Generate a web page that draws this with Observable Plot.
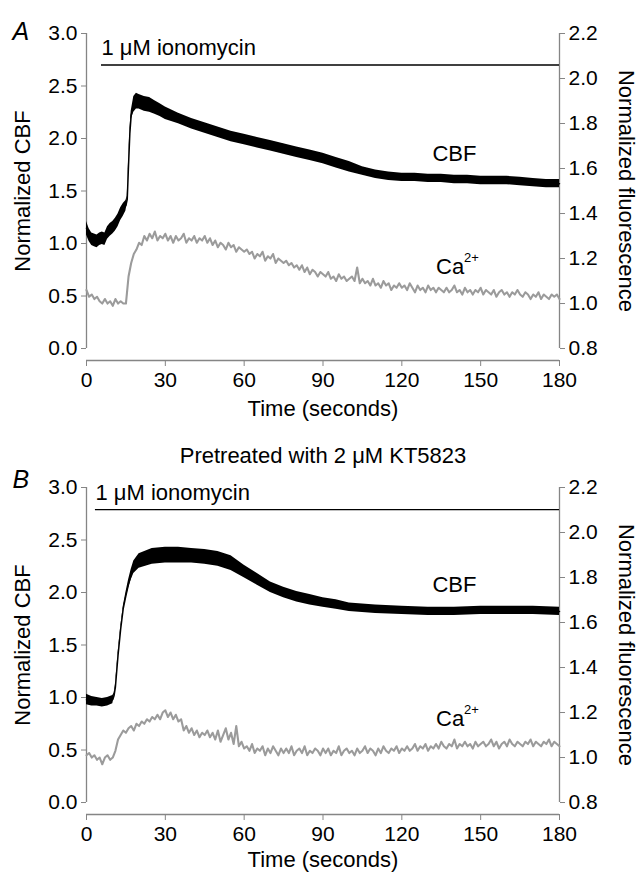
<!DOCTYPE html>
<html><head><meta charset="utf-8">
<script src="https://cdn.jsdelivr.net/npm/d3@7"></script>
<script src="https://cdn.jsdelivr.net/npm/@observablehq/plot@0.6"></script>
<style>
body{margin:0;background:#fff;}
#chart{width:641px;height:873px;font-family:"Liberation Sans",Arial,sans-serif;}
#chart svg{display:block;}
</style></head><body><div id="chart"></div>
<script>
// ---- axis tick values ----
const xTicks = [0, 30, 60, 90, 120, 150, 180];
const cbfTicks = [0, 0.5, 1.0, 1.5, 2.0, 2.5, 3.0];
const fluorTicks = [0.8, 1.0, 1.2, 1.4, 1.6, 1.8, 2.0, 2.2];

// ---- Panel A: CBF band (lower / upper edge of the dot cloud) ----
const cbfA_t  = [0,1,2,3,4,5,6,7,8,9,10,11,12,13,14,15,15.5,16,16.5,17,18,19,20,22,24,26,28,30,35,40,45,50,55,60,65,70,75,80,85,90,95,100,105,110,115,120,125,130,135,140,145,150,155,160,165,170,175,180];
const cbfA_lo = [1.08,1.02,0.98,0.97,0.96,0.98,0.99,0.98,1.04,1.07,1.09,1.12,1.16,1.22,1.26,1.31,1.39,1.72,2.02,2.18,2.25,2.28,2.28,2.26,2.25,2.23,2.21,2.18,2.14,2.09,2.05,2.01,1.97,1.94,1.91,1.88,1.85,1.82,1.79,1.76,1.72,1.68,1.65,1.62,1.60,1.59,1.59,1.58,1.58,1.57,1.57,1.56,1.56,1.56,1.55,1.54,1.53,1.53];
const cbfA_hi = [1.21,1.14,1.10,1.09,1.08,1.10,1.11,1.10,1.16,1.19,1.21,1.24,1.28,1.34,1.38,1.41,1.45,1.78,2.08,2.26,2.40,2.43,2.42,2.40,2.39,2.36,2.33,2.30,2.24,2.19,2.15,2.11,2.07,2.04,2.01,1.98,1.95,1.92,1.89,1.86,1.82,1.78,1.73,1.70,1.68,1.67,1.67,1.66,1.66,1.65,1.65,1.64,1.64,1.64,1.63,1.62,1.61,1.61];

// ---- Panel A: Ca2+ fluorescence, one reading per second (0..180 s) ----
const caA = [1.06,1.03,1.04,1.02,1.03,1.01,1.00,1.02,1.00,1.01,0.99,1.02,1.00,1.01,1.00,1.00,
 1.12,1.18,1.22,1.24,1.27,1.26,1.30,1.28,1.31,1.29,1.32,1.28,1.30,1.29,1.31,
 1.28,1.30,1.27,1.30,1.28,1.29,1.31,1.27,1.29,1.28,1.30,1.27,1.29,1.28,1.30,
 1.27,1.29,1.26,1.28,1.25,1.27,1.26,1.24,1.27,1.25,1.26,1.23,1.25,1.24,1.23,
 1.24,1.22,1.23,1.20,1.22,1.21,1.23,1.19,1.21,1.20,1.22,1.18,1.20,1.19,1.18,
 1.19,1.17,1.18,1.16,1.17,1.15,1.17,1.14,1.16,1.13,1.15,1.14,1.12,1.14,1.13,
 1.12,1.14,1.11,1.12,1.10,1.13,1.11,1.12,1.10,1.11,1.12,1.10,1.16,1.09,1.11,
 1.09,1.10,1.08,1.11,1.08,1.09,1.07,1.10,1.08,1.09,1.06,1.08,1.07,1.09,1.07,
 1.08,1.06,1.09,1.07,1.05,1.08,1.06,1.07,1.05,1.08,1.06,1.07,1.05,1.07,1.06,
 1.05,1.07,1.05,1.06,1.08,1.05,1.06,1.04,1.07,1.05,1.06,1.04,1.06,1.05,1.07,
 1.04,1.06,1.05,1.04,1.06,1.03,1.05,1.06,1.04,1.05,1.03,1.05,1.04,1.06,1.04,
 1.03,1.05,1.04,1.02,1.04,1.03,1.05,1.02,1.04,1.03,1.02,1.04,1.03,1.04,1.02];

// ---- Panel B: CBF band ----
const cbfB_t  = [0,2,4,6,8,10,10.5,11,11.5,12,13,14,15,16,17,18,20,25,30,35,40,45,50,55,60,65,70,75,80,85,90,95,100,110,120,130,140,150,160,170,180];
const cbfB_lo = [0.93,0.92,0.92,0.91,0.92,0.94,1.00,1.08,1.23,1.38,1.63,1.83,1.94,2.04,2.12,2.18,2.23,2.27,2.28,2.28,2.28,2.27,2.25,2.21,2.14,2.07,2.00,1.95,1.91,1.88,1.86,1.84,1.82,1.80,1.79,1.78,1.78,1.79,1.79,1.79,1.78];
const cbfB_hi = [1.03,1.01,1.00,0.99,1.00,1.02,1.04,1.12,1.27,1.42,1.67,1.87,2.00,2.12,2.22,2.30,2.37,2.42,2.43,2.43,2.42,2.41,2.39,2.35,2.26,2.18,2.10,2.05,2.01,1.98,1.95,1.93,1.90,1.88,1.87,1.86,1.86,1.87,1.87,1.87,1.86];

// ---- Panel B: Ca2+ fluorescence, one reading per second ----
const caB = [1.01,1.02,1.00,1.01,0.99,1.00,0.97,1.00,1.01,0.99,1.00,1.03,1.08,1.10,1.12,1.11,
 1.13,1.14,1.12,1.15,1.14,1.16,1.15,1.17,1.16,1.18,1.17,1.19,1.17,1.20,1.21,
 1.18,1.20,1.17,1.19,1.16,1.17,1.12,1.14,1.11,1.13,1.10,1.12,1.09,1.11,1.10,
 1.12,1.09,1.11,1.08,1.12,1.07,1.10,1.13,1.08,1.11,1.06,1.14,1.05,1.07,1.04,
 1.05,1.03,1.06,1.02,1.04,1.03,1.05,1.01,1.04,1.02,1.05,1.03,1.01,1.04,1.02,
 1.04,1.02,1.05,1.01,1.03,1.04,1.02,1.05,1.01,1.03,1.02,1.04,1.03,1.01,1.04,
 1.02,1.04,1.01,1.03,1.02,1.05,1.01,1.03,1.04,1.02,1.03,1.01,1.04,1.02,1.03,
 1.05,1.02,1.04,1.03,1.01,1.04,1.02,1.05,1.03,1.02,1.04,1.03,1.05,1.02,1.04,
 1.03,1.05,1.03,1.04,1.06,1.03,1.05,1.04,1.06,1.03,1.05,1.04,1.06,1.04,1.07,
 1.05,1.04,1.06,1.05,1.08,1.04,1.06,1.05,1.07,1.05,1.06,1.04,1.07,1.05,1.06,
 1.07,1.05,1.06,1.08,1.05,1.07,1.04,1.06,1.07,1.05,1.08,1.06,1.05,1.07,1.06,
 1.05,1.07,1.06,1.08,1.05,1.07,1.06,1.05,1.07,1.06,1.08,1.05,1.07,1.06,1.05];

// ---- text ----
const ionoLabel = "1 \u03BCM ionomycin";
const titleB = "Pretreated with 2 \u03BCM KT5823";
const yTitleL = "Normalized CBF";
const yTitleR = "Normalized fluorescence";
const xTitle = "Time (seconds)";

// fluorescence axis (0.8..2.2) shares the frame with the CBF axis (0..3)
const F0 = 0.8, F1 = 2.2, C1 = 3;
const toCBF = f => (f - F0) / (F1 - F0) * C1;
const toF = c => F0 + c / C1 * (F1 - F0);

const FONT = "Liberation Sans, Arial, sans-serif";
const AXIS_GRAY = "#858585";
const TICK_FS = 21, TXT_FS = 22;

function panel(p) {
  const band = p.t.map((x, i) => ({t: x, lo: p.lo[i], hi: p.hi[i], mid: (p.lo[i] + p.hi[i]) / 2}));
  const caData = p.ca.map((f, i) => ({t: i, y: toCBF(f)}));
  const yLow = -0.114;
  const marks = [
    Plot.ruleX([0], {y1: 0, y2: 3, stroke: AXIS_GRAY, strokeWidth: 1.3}),
    Plot.ruleX([180], {y1: 0, y2: 3, stroke: AXIS_GRAY, strokeWidth: 1.3}),
    Plot.ruleY([yLow], {x1: 0, x2: 180, stroke: AXIS_GRAY, strokeWidth: 1.3}),
    Plot.axisY(cbfTicks, {anchor: "left", tickFormat: d3.format(".1f"), tickSize: 5, tickPadding: 4, label: null, stroke: AXIS_GRAY, fill: "#000", fontSize: TICK_FS}),
    Plot.axisY(fluorTicks.map(toCBF), {anchor: "right", tickFormat: d => toF(d).toFixed(1), tickSize: 5, tickPadding: 4, label: null, stroke: AXIS_GRAY, fill: "#000", fontSize: TICK_FS}),
    Plot.axisX(xTicks, {anchor: "bottom", tickSize: 6, tickPadding: 6, label: null, stroke: AXIS_GRAY, fill: "#000", fontSize: TICK_FS}),
    Plot.line(caData, {x: "t", y: "y", stroke: "#9b9b9b", strokeWidth: 2.1}),
    Plot.areaY(band, {x: "t", y1: "lo", y2: "hi", fill: "#000"}),
    Plot.line(band, {x: "t", y: "mid", stroke: "#000", strokeWidth: 1.5}),
    Plot.ruleY([p.iono.y], {x1: p.iono.t0, x2: 180, stroke: "#000", strokeWidth: 1.3}),
    Plot.text([{x: p.iono.t0, y: p.iono.ty, s: ionoLabel}], {x: "x", y: "y", text: "s", textAnchor: "start", fontSize: TXT_FS, fill: "#000"}),
    Plot.text([{x: p.cbfLab[0], y: p.cbfLab[1], s: "CBF"}], {x: "x", y: "y", text: "s", fontSize: TXT_FS, fill: "#000"}),
    Plot.text([{x: p.caLab[0], y: p.caLab[1], s: "Ca"}], {x: "x", y: "y", text: "s", textAnchor: "start", fontSize: TXT_FS, fill: "#000"}),
    Plot.text([{x: p.caLab[0], y: p.caLab[1], s: "2+"}], {x: "x", y: "y", text: "s", textAnchor: "start", dx: 28, dy: -9, fontSize: 13, fill: "#000"}),
    Plot.text([{x: 0, y: 1.5, s: yTitleL}], {x: "x", y: "y", text: "s", rotate: -90, dx: -64, fontSize: TXT_FS, fill: "#000"}),
    Plot.text([{x: 180, y: 1.5, s: yTitleR}], {x: "x", y: "y", text: "s", rotate: 90, dx: 67, fontSize: TXT_FS, fill: "#000"}),
    Plot.text([{x: 90, y: yLow, s: xTitle}], {x: "x", y: "y", text: "s", dy: p.xTitleDy, fontSize: TXT_FS, fill: "#000"}),
    Plot.text([{x: 0, y: 3, s: p.letter}], {x: "x", y: "y", text: "s", textAnchor: "start", dx: -74, dy: p.letterDy, fontSize: 25, fontStyle: "italic", fill: "#000"})
  ];
  if (p.title) marks.push(Plot.text([{x: 90, y: 3, s: p.title}], {x: "x", y: "y", text: "s", dy: -32, fontSize: TXT_FS, fill: "#000"}));
  return Plot.plot({
    width: 641, height: p.height,
    marginLeft: 86, marginRight: 82, marginTop: p.marginTop, marginBottom: p.marginBottom,
    x: {domain: [0, 180]},
    y: {domain: [yLow, 3]},
    style: {fontFamily: FONT, fontSize: "21px", color: "#000", background: "#fff", overflow: "visible"},
    marks
  });
}

const chart = document.getElementById("chart");
chart.append(panel({
  letter: "A", letterDy: -2, height: 440, marginTop: 33, marginBottom: 80, xTitleDy: 48,
  t: cbfA_t, lo: cbfA_lo, hi: cbfA_hi, ca: caA,
  iono: {t0: 5.7, y: 2.70, ty: 2.86}, cbfLab: [140, 1.85], caLab: [133, 0.78]
}));
chart.append(panel({
  letter: "B", letterDy: -8, height: 433, marginTop: 47, marginBottom: 59, xTitleDy: 45, title: titleB,
  t: cbfB_t, lo: cbfB_lo, hi: cbfB_hi, ca: caB,
  iono: {t0: 3.4, y: 2.79, ty: 2.95}, cbfLab: [140, 2.07], caLab: [133, 0.80]
}));
</script></body></html>
